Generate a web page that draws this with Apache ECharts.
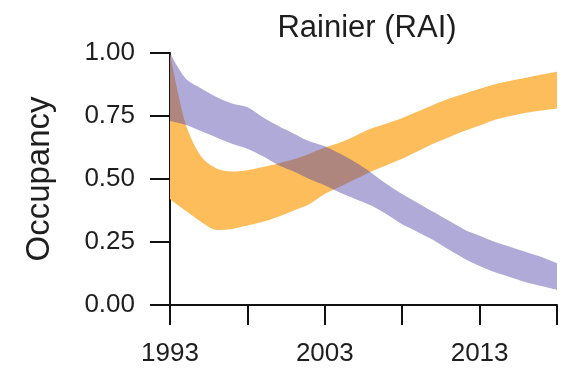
<!DOCTYPE html>
<html>
<head>
<meta charset="utf-8">
<script src="https://cdn.jsdelivr.net/npm/echarts@6/dist/echarts.min.js"></script>
<style>
  html, body { margin: 0; padding: 0; background: #fff; }
  #chart { width: 562px; height: 369px; }
</style>
</head>
<body>
<div id="chart"></div>
<script>
// Survey years
const years = [1993, 1994, 1995, 1996, 1997, 1998, 1999, 2000, 2001, 2002, 2003, 2004, 2005,
               2006, 2007, 2008, 2009, 2010, 2011, 2012, 2013, 2014, 2015, 2016, 2017, 2018];

// Purple band: occupancy interval (lower / upper)
const purpleLower = [0.73, 0.715, 0.69, 0.665, 0.64, 0.62, 0.59, 0.555, 0.53, 0.50, 0.475, 0.445, 0.42,
                     0.395, 0.36, 0.32, 0.29, 0.258, 0.22, 0.185, 0.155, 0.13, 0.11, 0.09, 0.075, 0.06];
const purpleUpper = [1.00, 0.90, 0.86, 0.825, 0.80, 0.785, 0.745, 0.71, 0.68, 0.65, 0.63, 0.60, 0.565,
                     0.525, 0.48, 0.44, 0.405, 0.37, 0.335, 0.30, 0.275, 0.25, 0.23, 0.21, 0.19, 0.165];

// Orange band: occupancy interval (lower / upper)
const orangeLower = [0.42, 0.375, 0.33, 0.298, 0.302, 0.315, 0.33, 0.35, 0.375, 0.40, 0.44, 0.47, 0.50,
                     0.53, 0.555, 0.58, 0.61, 0.64, 0.665, 0.69, 0.712, 0.735, 0.75, 0.763, 0.772, 0.78];
const orangeUpper = [1.00, 0.72, 0.59, 0.542, 0.53, 0.535, 0.548, 0.562, 0.578, 0.60, 0.625, 0.645, 0.672,
                     0.70, 0.72, 0.742, 0.768, 0.794, 0.818, 0.838, 0.858, 0.876, 0.89, 0.902, 0.915, 0.926];

// Y tick values
const yTicks = [0, 0.25, 0.5, 0.75, 1.0];

const FONT = '"Liberation Sans", Arial, Helvetica, sans-serif';
const TEXT = '#1e1e1e';

function band(name, lower, upper, color, z) {
  const width = upper.map((u, i) => +(u - lower[i]).toFixed(4));
  return [
    {
      name: name + ' base', type: 'line', stack: name, data: lower,
      symbol: 'none', smooth: 0.3, lineStyle: { opacity: 0 }, silent: true, z: z
    },
    {
      name: name, type: 'line', stack: name, data: width,
      symbol: 'none', smooth: 0.3, lineStyle: { opacity: 0 },
      areaStyle: { color: color, opacity: 1 }, silent: true, z: z
    }
  ];
}

const chart = echarts.init(document.getElementById('chart'), null, { renderer: 'canvas' });
chart.setOption({
  animation: false,
  backgroundColor: '#fff',
  title: {
    text: 'Rainier (RAI)',
    left: 362, top: 8, textAlign: 'center',
    textStyle: { fontFamily: FONT, fontSize: 31, fontWeight: 'normal', color: TEXT }
  },
  grid: { left: 170, right: 5, top: 53, bottom: 64, containLabel: false },
  xAxis: {
    type: 'category',
    data: years,
    boundaryGap: false,
    axisLine: { lineStyle: { color: '#111', width: 2 } },
    axisTick: { interval: 4, length: 20, lineStyle: { color: '#111', width: 2 } },
    axisLabel: { interval: 9, margin: 36, fontFamily: FONT, fontSize: 26, color: TEXT },
    splitLine: { show: false }
  },
  yAxis: {
    type: 'value',
    min: yTicks[0], max: yTicks[yTicks.length - 1], interval: 0.25,
    name: 'Occupancy',
    nameLocation: 'middle', nameRotate: 90, nameGap: 114,
    nameTextStyle: { fontFamily: FONT, fontSize: 33, color: TEXT },
    axisLine: { show: true, lineStyle: { color: '#111', width: 2 } },
    axisTick: { show: true, length: 20, lineStyle: { color: '#111', width: 2 } },
    axisLabel: { margin: 35, fontFamily: FONT, fontSize: 26, color: TEXT,
                 formatter: v => v.toFixed(2) },
    splitLine: { show: false }
  },
  series: [
    ...band('orange', orangeLower, orangeUpper, '#fdbd5a', 2),
    ...band('purple', purpleLower, purpleUpper, 'rgba(80,70,170,0.46)', 3)
  ]
});
</script>
</body>
</html>
